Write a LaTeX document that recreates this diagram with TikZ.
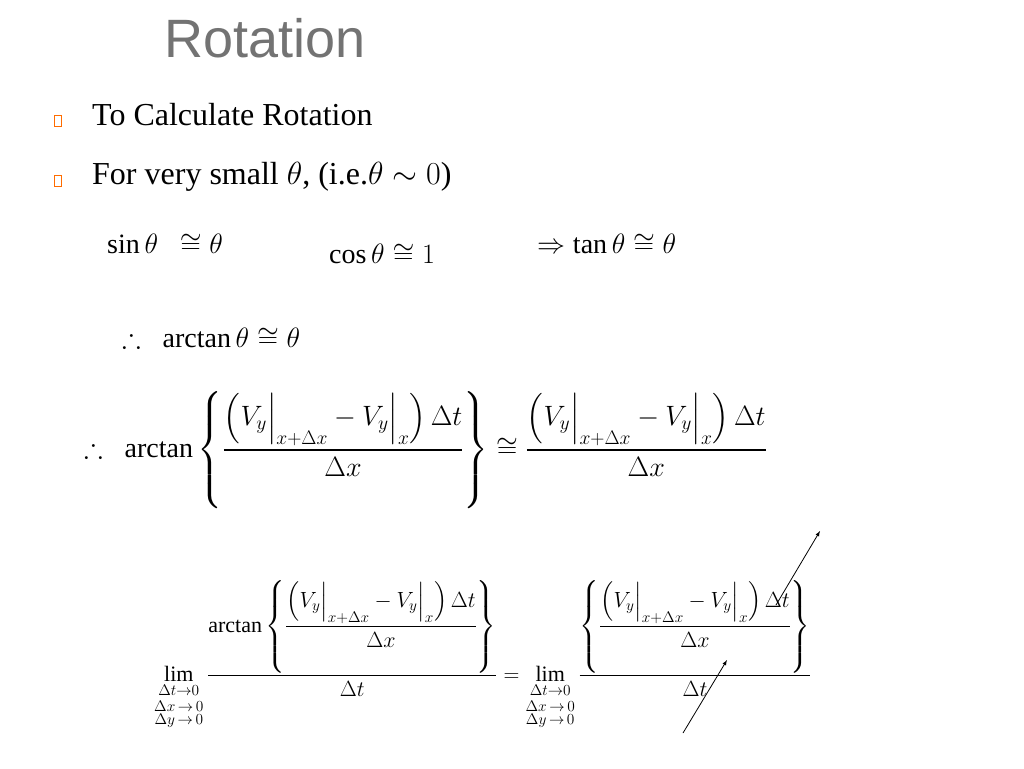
\RequirePackage{fix-cm}
\documentclass[tikz,border=0pt]{standalone}
\usepackage{amsmath,amssymb}
\usepackage{fontspec}
\setmainfont{Liberation Serif}
\newfontfamily\titlefont{Liberation Sans}
\definecolor{palegreen}{RGB}{214,228,188}
\pgfdeclareradialshading{vignette}{\pgfpoint{0bp}{0bp}}{color(0bp)=(white); color(36bp)=(white); color(50bp)=(palegreen)}
\begin{document}
\begin{tikzpicture}[
        x=1pt, y=-1pt,
        txt/.style={anchor=west, inner sep=0pt, font=\fontsize{32}{38}\selectfont},
        eqn/.style={anchor=west, inner sep=0pt, font=\fontsize{28}{34}\selectfont},
        bulletbox/.style={draw=orange!85!red, thick, minimum width=7pt, minimum height=11pt, inner sep=0pt},
        cross/.style={thick, -latex}
        ]
        % background
        \shade[shading=vignette] (0,0) rectangle (1024,768);
        \useasboundingbox (0,0) rectangle (1024,768);
        % title
        \node[anchor=west, inner sep=0pt, text=black!55, font=\titlefont\fontsize{54}{60}\selectfont] (title) at (164,38) {Rotation};
        % bullets
        \node[bulletbox] (b1) at (58,121) {};
        \node[bulletbox] (b2) at (58,181) {};
        \node[txt] (l1) at (92,115) {To Calculate Rotation};
        \node[txt] (l2) at (92,177) {For very small $\theta$, (i.e.$\theta\sim 0$)};
        % small angle
        \node[eqn] (sin) at (107,244) {$\sin\theta\ \ \cong\theta$};
        \node[eqn] (cos) at (329,254) {$\cos\theta\cong1$};
        \node[eqn] (tan) at (537,244) {$\Rightarrow\tan\theta\cong\theta$};
        \node[eqn] (arc) at (122,338) {$\therefore\ \ \mathrm{arctan}\,\theta\cong\theta$};
        % big equation
        \node[eqn] (big) at (84,450) {$\displaystyle\therefore\ \ \mathrm{arctan}\left\{\frac{\left(V_y\Big|_{x+\Delta x}-V_y\Big|_x\right)\Delta t}{\Delta x}\right\}\cong\frac{\left(V_y\Big|_{x+\Delta x}-V_y\Big|_x\right)\Delta t}{\Delta x}$};
        % limit
        \node[anchor=west, inner sep=0pt, font=\fontsize{22}{26}\selectfont] (lim) at (154,655) {$\displaystyle\lim_{\substack{\Delta t\to0\\[4pt] \Delta x\,\to\,0\\ \Delta y\,\to\,0}}\frac{\mathrm{arctan}\left\{\dfrac{\left(V_y\Big|_{x+\Delta x}-V_y\Big|_x\right)\Delta t}{\Delta x}\right\}}{\Delta t}=\lim_{\substack{\Delta t\to0\\[4pt] \Delta x\,\to\,0\\ \Delta y\,\to\,0}}\frac{\left\{\dfrac{\left(V_y\Big|_{x+\Delta x}-V_y\Big|_x\right)\Delta t}{\Delta x}\right\}}{\Delta t}$};
        % cancel
        \coordinate (c1a) at (683,733);
        \coordinate (c1b) at (727,660);
        \coordinate (c2a) at (776,605);
        \coordinate (c2b) at (820,531);
        \draw[cross] (c1a) -- (c1b);
        \draw[cross] (c2a) -- (c2b);
    \end{tikzpicture}
\end{document}
